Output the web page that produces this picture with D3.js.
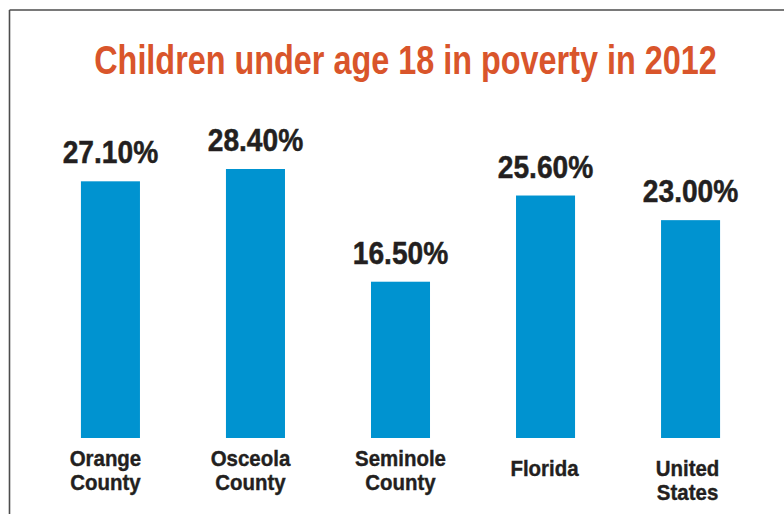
<!DOCTYPE html>
<html>
<head>
<meta charset="utf-8">
<script src="https://cdn.jsdelivr.net/npm/d3@7"></script>
<style>
  html, body { margin: 0; padding: 0; background: #fff; }
  svg { display: block; }
  .cond { font-family: "Liberation Sans", Arial, sans-serif; font-weight: bold; }
</style>
</head>
<body>
<svg id="chart" width="784" height="514"></svg>
<script>
// Share of children under 18 living in poverty, 2012
const categories = [["Orange", "County"], ["Osceola", "County"], ["Seminole", "County"], ["Florida"], ["United", "States"]];
const values = [27.10, 28.40, 16.50, 25.60, 23.00];
const valueLabels = ["27.10%", "28.40%", "16.50%", "25.60%", "23.00%"];
const titleText = "Children under age 18 in poverty in 2012";

const svg = d3.select("#chart");
const W = 784, H = 514;

// condensed-looking text: horizontally squeezed group around an anchor point
function condText(parent, cx, cy, sx) {
  return parent.append("g")
    .attr("transform", `translate(${cx},${cy}) scale(${sx},1)`)
    .append("text")
    .attr("class", "cond")
    .attr("text-anchor", "middle");
}

// frame lines along top and left
svg.append("line").attr("x1", 9.5).attr("x2", W).attr("y1", 10).attr("y2", 10)
  .attr("stroke", "#4d4d4d").attr("stroke-width", 1.6);
svg.append("line").attr("x1", 9.5).attr("x2", 9.5).attr("y1", 10).attr("y2", H)
  .attr("stroke", "#4d4d4d").attr("stroke-width", 1.6);

// title
condText(svg, 405.5, 74, 0.81)
  .attr("font-size", 40)
  .attr("fill", "#d9552b")
  .text(titleText);

const baseY = 438;
const x = d3.scaleBand()
  .domain(d3.range(values.length))
  .range([38, 763])
  .paddingInner(0.593)
  .paddingOuter(0.296);

const y = d3.scaleLinear().domain([0, 28.4]).range([baseY, 169]);

const g = svg.append("g");

g.selectAll("rect.bar")
  .data(values)
  .join("rect")
  .attr("class", "bar")
  .attr("x", (d, i) => x(i))
  .attr("width", x.bandwidth())
  .attr("y", d => y(d))
  .attr("height", d => baseY - y(d))
  .attr("fill", "#0093d0");

values.forEach((d, i) => {
  condText(g, x(i) + x.bandwidth() / 2, y(d) - 18, 0.88)
    .attr("font-size", 32)
    .attr("fill", "#231f20")
    .attr("stroke", "#231f20")
    .attr("stroke-width", 0.5)
    .text(valueLabels[i]);
});

// category names under each bar
const labelTop = categories.map(c => c.length === 1 ? 476 : 465.5);
labelTop[4] = 475.5;
const labelShift = [-5, -5, 0, -1, -3];
categories.forEach((lines, i) => {
  lines.forEach((ln, k) => {
    condText(g, x(i) + x.bandwidth() / 2 + labelShift[i], labelTop[i] + k * 24.5, 0.93)
      .attr("font-size", 22)
      .attr("fill", "#231f20")
      .attr("stroke", "#231f20")
      .attr("stroke-width", 0.4)
      .text(ln);
  });
});
</script>
</body>
</html>
